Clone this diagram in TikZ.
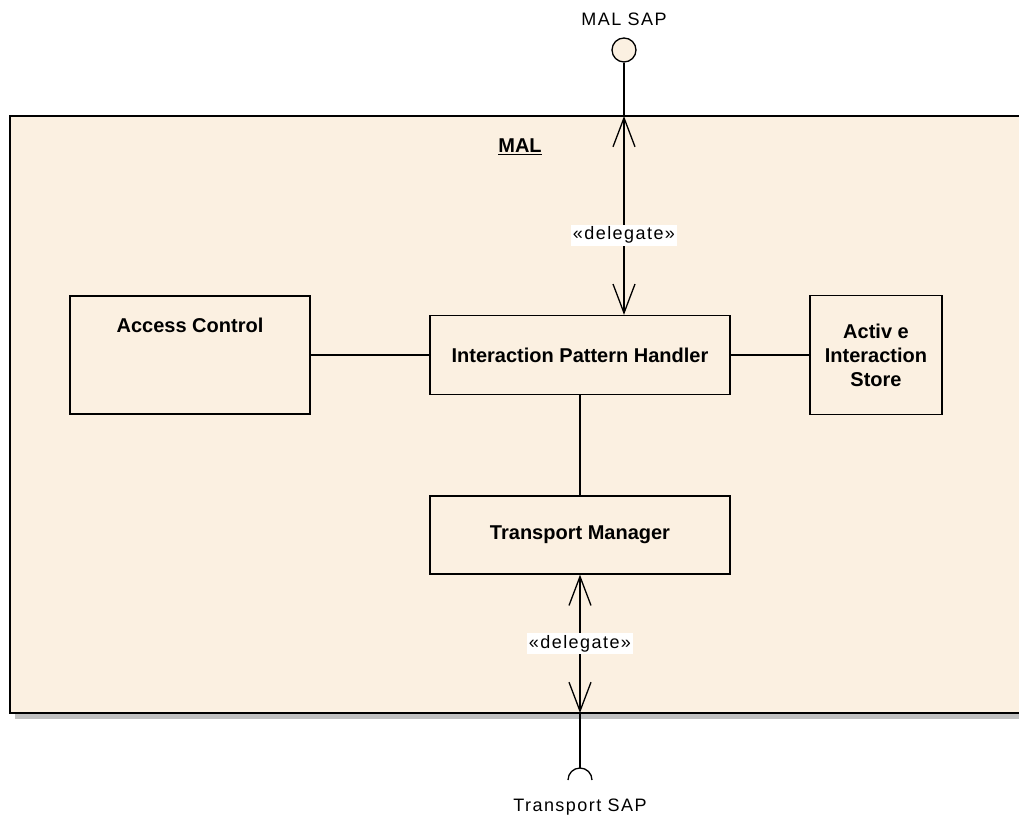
\documentclass[tikz,border=0pt]{standalone}
\usepackage{fontspec}
\setmainfont{Liberation Sans}
\newfontfamily\eafont[LetterSpace=8]{Liberation Sans}
\usetikzlibrary{arrows.meta}
\definecolor{malfill}{HTML}{FBF0E1}
\definecolor{malshadow}{HTML}{C0C0C0}
\begin{document}
\begin{tikzpicture}[x=1pt,y=-1pt]
\tikzstyle{part} = [draw, line width=1.3pt, fill=malfill, font=\bfseries\fontsize{20}{24}\selectfont, align=center, inner sep=0pt] % part box style
\tikzstyle{deleg} = [line width=1.3pt, {Straight Barb[length=29pt,width=22pt]}-{Straight Barb[length=29pt,width=22pt]}] % delegate connector
\tikzstyle{stereo} = [fill=white, inner sep=2pt, font=\eafont\fontsize{18}{20}\selectfont] % stereotype text
\tikzstyle{saptext} = [font=\eafont\fontsize{18}{20}\selectfont] % port names
\useasboundingbox (0,0) rectangle (1019,818);
% the MAL component with its shadow
\fill[malshadow] (15,122) rectangle (1030,719);
\draw[line width=1.3pt, fill=malfill] (10,116) rectangle (1030,713);
\node[font=\bfseries\fontsize{20}{24}\selectfont] (mal) at (520,147) {\underline{MAL}};
% parts
\node[part, minimum width=240pt, minimum height=118pt, label={[anchor=north, yshift=-19pt, font=\bfseries\fontsize{20}{24}\selectfont]north:Access Control}] (ac) at (190,355) {};
\node[part, minimum width=300pt, minimum height=79pt] (iph) at (580,355) {Interaction Pattern Handler};
\node[part, minimum width=132pt, minimum height=119pt] (ais) at (876,355) {Activ e\\Interaction\\Store};
\node[part, minimum width=300pt, minimum height=78pt] (tm) at (580,535) {Transport Manager};
\draw[line width=1.3pt] (ac) -- (iph);
\draw[line width=1.3pt] (iph) -- (ais);
\draw[line width=1.3pt] (iph) -- (tm);
% ports and delegations
\coordinate (ptop) at (624,116);
\coordinate (pbot) at (580,713);
\node[circle, draw, line width=1.3pt, fill=malfill, minimum size=24pt, inner sep=0pt] (sap) at (624,50) {};
\node[saptext] (saplbl) at (624,19) {MAL SAP};
\draw[line width=1.3pt] (sap) -- (ptop);
\draw[deleg] (ptop) -- (iph.north -| ptop) node[stereo, pos=0.6] (d1) {«delegate»};
\draw[deleg] (tm) -- (pbot) node[stereo, midway] (d2) {«delegate»};
\coordinate (tsap) at (580,768);
\draw[line width=1.3pt] (pbot) -- (tsap);
\draw[line width=1.3pt] (tsap) ++(-12,12) arc (180:360:12);
\node[saptext] (tsaplbl) at (580,807) {Transport SAP};
\end{tikzpicture}
\end{document}
